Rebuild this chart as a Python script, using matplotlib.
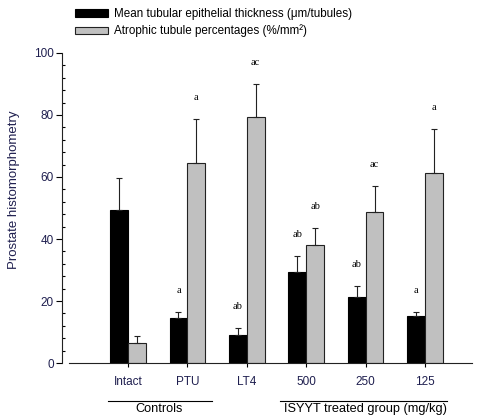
import numpy as np
import matplotlib
matplotlib.use("Agg")
import matplotlib.pyplot as plt
from matplotlib.ticker import MultipleLocator

plt.rcParams['font.family'] = ['Liberation Sans', 'DejaVu Sans']

# groups and measurements
groups = ['Intact', 'PTU', 'LT4', '500', '250', '125']
thickness = [49.4, 14.5, 9.0, 29.4, 21.3, 15.2]
thickness_err = [10.3, 2.0, 2.3, 5.1, 3.5, 1.3]
atrophic = [6.5, 64.5, 79.4, 38.0, 48.7, 61.3]
atrophic_err = [2.2, 14.2, 10.6, 5.5, 8.3, 14.2]
thickness_sig = ['', 'a', 'ab', 'ab', 'ab', 'a']
atrophic_sig = ['', 'a', 'ac', 'ab', 'ac', 'a']

navy = '#1f1f4f'
x = np.arange(len(groups))
w = 0.30

fig = plt.figure(figsize=(4.79, 4.16), dpi=100)
ax = fig.add_axes([0.1294, 0.1274, 0.856, 0.7452])

b1 = ax.bar(x - w / 2, thickness, w, color='black', edgecolor='black', linewidth=0.8,
            label='Mean tubular epithelial thickness (μm/tubules)')
b2 = ax.bar(x + w / 2, atrophic, w, color='#c0c0c0', edgecolor='#222222', linewidth=0.8,
            label='Atrophic tubule percentages (%/mm²)')
ax.errorbar(x - w / 2, thickness, yerr=[np.zeros(len(x)), thickness_err], fmt='none',
            ecolor='#222222', elinewidth=0.8, capsize=2.5, capthick=0.8)
ax.errorbar(x + w / 2, atrophic, yerr=[np.zeros(len(x)), atrophic_err], fmt='none',
            ecolor='#222222', elinewidth=0.8, capsize=2.5, capthick=0.8)

# significance letters above the error bars
for i in range(len(x)):
    if thickness_sig[i]:
        ax.text(x[i] - w / 2, thickness[i] + thickness_err[i] + 7, thickness_sig[i],
                ha='center', va='center', fontsize=7.5, family='Liberation Serif')
    if atrophic_sig[i]:
        ax.text(x[i] + w / 2, atrophic[i] + atrophic_err[i] + 7, atrophic_sig[i],
                ha='center', va='center', fontsize=7.5, family='Liberation Serif')

ax.set_xlim(-1.11, 5.79)
ax.set_ylim(0, 100)
ax.spines['top'].set_visible(False)
ax.spines['right'].set_visible(False)
ax.spines['bottom'].set_bounds(-1.0, 5.79)
for s in ('left', 'bottom'):
    ax.spines[s].set_linewidth(0.8)
    ax.spines[s].set_color('#222222')

ax.set_xticks(x)
ax.set_xticklabels(groups, fontsize=8.5, color=navy)
ax.yaxis.set_major_locator(MultipleLocator(20))
ax.yaxis.set_minor_locator(MultipleLocator(4))
ax.tick_params(axis='y', which='major', direction='out', length=4, width=0.8,
               labelsize=8.5, labelcolor=navy, pad=2)
ax.tick_params(axis='y', which='minor', direction='in', length=2.5, width=0.8)
ax.tick_params(axis='x', direction='out', length=3, width=0.8, pad=6)
ax.set_ylabel('Prostate histomorphometry', fontsize=9.5, color=navy)
ax.yaxis.set_label_coords(-0.102, 0.558)

# group brackets under the tick labels
fig.add_artist(plt.Line2D([108 / 479, 212 / 479], [1 - 401 / 416] * 2, color='black', lw=0.8))
fig.text(159 / 479, 1 - 409 / 416, 'Controls', ha='center', va='center', fontsize=9.2)
fig.add_artist(plt.Line2D([280 / 479, 447 / 479], [1 - 401 / 416] * 2, color='black', lw=0.8))
fig.text(365 / 479, 1 - 409 / 416, 'ISYYT treated group (mg/kg)', ha='center', va='center', fontsize=9.2)

fig.legend(handles=[b1, b2], loc='upper left', bbox_to_anchor=(75 / 479, 1 - 8 / 416),
           frameon=False, fontsize=8.4, handlelength=2.8, handleheight=0.65,
           handletextpad=0.5, labelspacing=0.4, borderpad=0, borderaxespad=0)

fig.savefig('out.png', dpi=100)
